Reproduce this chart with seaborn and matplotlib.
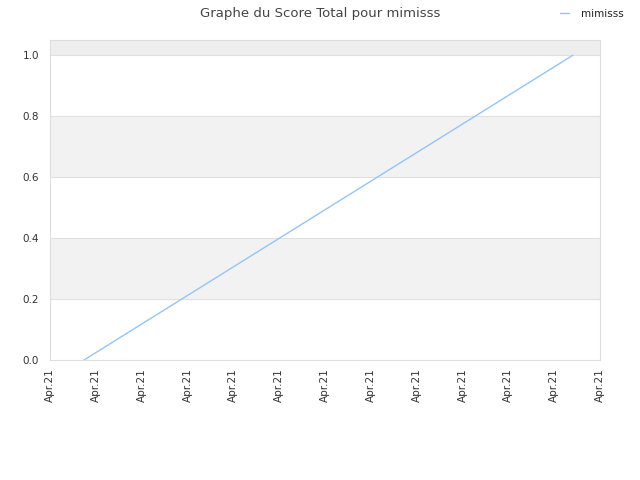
import matplotlib
matplotlib.use("Agg")
import matplotlib.pyplot as plt
import matplotlib.dates as mdates
import seaborn as sns
import pandas as pd

# Data
dates = ["2021-04-20 01:29", "2021-04-20 22:49"]
scores = [0.0, 1.0]
series_name = "mimisss"
title = "Graphe du Score Total pour mimisss"

df = pd.DataFrame({"date": pd.to_datetime(dates), "score": scores, "name": series_name})

sns.set_style("white")
plt.rcParams['font.family'] = ['DejaVu Sans']

fig = plt.figure(figsize=(6.4, 4.8), dpi=100)
ax = fig.add_axes([50/640, 120/480, 550/640, 320/480])

ymax = 1.05
for lo, hi in [(0.2, 0.4), (0.6, 0.8)]:
    ax.axhspan(lo, hi, color="#f2f2f2", zorder=0, lw=0)
ax.axhspan(1.0, ymax, color="#eeeeee", zorder=0, lw=0)
for y in [0.2, 0.4, 0.6, 0.8, 1.0]:
    ax.axhline(y, color="#e0e0e0", lw=0.8, zorder=0.5)

sns.lineplot(data=df, x="date", y="score", hue="name", palette=["#94c4f8"],
             linewidth=1, ax=ax, legend=True)

ax.set_ylim(0, ymax)
ax.set_yticks([0.0, 0.2, 0.4, 0.6, 0.8, 1.0])
start = pd.Timestamp("2021-04-20 00:00")
end = pd.Timestamp("2021-04-21 00:00")
ax.set_xlim(start, end)
ax.set_xticks(pd.date_range(start, end, freq="2h"))
ax.xaxis.set_major_formatter(mdates.DateFormatter("%b.%y"))
ax.set_xlabel("")
ax.set_ylabel("")
ax.tick_params(axis="both", labelsize=7.5, colors="#333333", length=0, pad=6)
ax.tick_params(axis="y", pad=8)
plt.setp(ax.get_xticklabels(), rotation=90)
for s in ax.spines.values():
    s.set_color("#dddddd")
    s.set_linewidth(0.8)

fig.suptitle(title, y=0.985, fontsize=9.5, color="#444444")
leg = ax.legend(loc="upper right", bbox_to_anchor=(1.051, 1.110), frameon=False,
                fontsize=7.5, handlelength=0.8, handletextpad=1.2, borderaxespad=0)
for t in leg.get_texts():
    t.set_color("#222222")

fig.savefig("out.png", dpi=100)
